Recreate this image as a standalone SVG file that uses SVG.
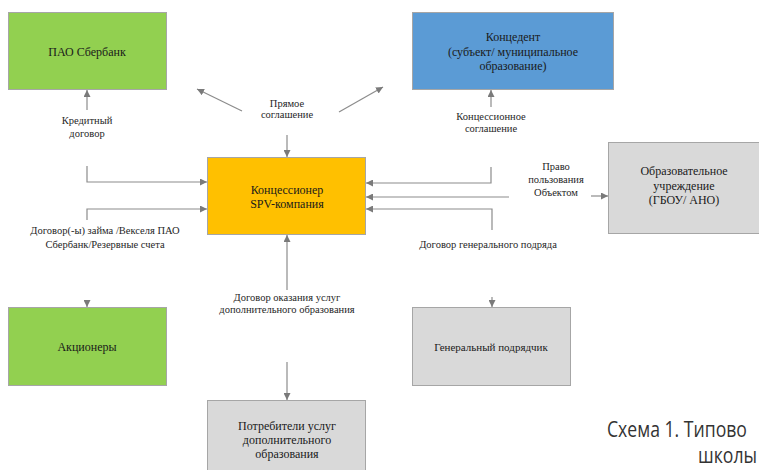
<svg xmlns="http://www.w3.org/2000/svg" width="759" height="470" viewBox="0 0 759 470">
<style>
.box{stroke:#a6a6a6;stroke-width:1}
.nt{font-family:"Liberation Serif",Tinos,"Times New Roman","DejaVu Serif",serif;font-size:12px;fill:#1a1a1a;text-anchor:middle}
.lt{font-family:"Liberation Serif",Tinos,"Times New Roman","DejaVu Serif",serif;font-size:10.5px;fill:#262626;text-anchor:middle}
.ln{fill:none;stroke:#8c8c8c;stroke-width:1.2}
.cap{font-family:"Open Sans","Liberation Sans",sans-serif;font-size:21px;fill:#333}
</style>
<defs>
<marker id="ah" viewBox="0 0 10 10" refX="10" refY="5" markerWidth="7" markerHeight="7" markerUnits="userSpaceOnUse" orient="auto">
<path d="M0,0 L10,5 L0,10 z" fill="#7a7a7a"/>
</marker>
</defs>
<rect width="759" height="470" fill="#fff"/>
<g id="sberbank"><rect class="box" x="8.5" y="12.5" width="158" height="77" fill="#92d050"/><text class="nt" x="87" y="56">ПАО Сбербанк</text></g>
<g id="concedent"><rect class="box" x="412.5" y="12.5" width="201" height="77" fill="#5b9bd5"/><text class="nt" x="513" y="41">Концедент</text><text class="nt" x="513" y="56">(субъект/ муниципальное</text><text class="nt" x="513" y="70">образование)</text></g>
<g id="concessioner"><rect class="box" x="207.5" y="157.5" width="158" height="77" fill="#ffc000"/><text class="nt" x="287" y="194">Концессионер</text><text class="nt" x="287" y="208">SPV-компания</text></g>
<g id="school"><rect class="box" x="608.5" y="142.5" width="160" height="91" fill="#d9d9d9"/><text class="nt" x="684" y="175">Образовательное</text><text class="nt" x="684" y="190">учреждение</text><text class="nt" x="684" y="204">(ГБОУ/ АНО)</text></g>
<g id="shareholders"><rect class="box" x="8.5" y="307.5" width="158" height="78" fill="#92d050"/><text class="nt" x="87" y="351">Акционеры</text></g>
<g id="contractor"><rect class="box" x="412.5" y="307.5" width="158" height="78" fill="#d9d9d9"/><text class="nt" x="491" y="351" style="font-size:11px">Генеральный подрядчик</text></g>
<g id="consumers"><rect class="box" x="207.5" y="400.5" width="158" height="75" fill="#d9d9d9"/><text class="nt" x="287" y="430">Потребители услуг</text><text class="nt" x="287" y="444">дополнительного</text><text class="nt" x="287" y="458">образования</text></g>
<g id="connectors">
<line class="ln" x1="87" y1="110" x2="87" y2="90" marker-end="url(#ah)"/>
<polyline class="ln" points="87,166 87,182 207,182" marker-end="url(#ah)"/>
<polyline class="ln" points="87,220 87,209 207,209" marker-end="url(#ah)"/>
<line class="ln" x1="87" y1="300" x2="87" y2="307" marker-end="url(#ah)"/>
<line class="ln" x1="242" y1="111" x2="197" y2="89" marker-end="url(#ah)"/>
<line class="ln" x1="339" y1="112" x2="383" y2="87" marker-end="url(#ah)"/>
<line class="ln" x1="287" y1="135" x2="287" y2="157" marker-end="url(#ah)"/>
<line class="ln" x1="491" y1="107" x2="491" y2="90" marker-end="url(#ah)"/>
<polyline class="ln" points="491,167 491,183 366,183" marker-end="url(#ah)"/>
<line class="ln" x1="509" y1="197" x2="366" y2="197" marker-end="url(#ah)"/>
<polyline class="ln" points="492,230 492,209 366,209" marker-end="url(#ah)"/>
<line class="ln" x1="492" y1="297" x2="492" y2="307" marker-end="url(#ah)"/>
<line class="ln" x1="591" y1="196" x2="608" y2="196" marker-end="url(#ah)"/>
<line class="ln" x1="287" y1="290" x2="287" y2="235" marker-end="url(#ah)"/>
<line class="ln" x1="287" y1="362" x2="287" y2="400" marker-end="url(#ah)"/>
<text class="lt" x="87" y="124">Кредитный</text>
<text class="lt" x="87" y="137">договор</text>
<text class="lt" x="105" y="234">Договор(-ы) займа /Векселя ПАО</text>
<text class="lt" x="105" y="248">Сбербанк/Резервные счета</text>
<text class="lt" x="287" y="107">Прямое</text>
<text class="lt" x="287" y="118">соглашение</text>
<text class="lt" x="491" y="120">Концессионное</text>
<text class="lt" x="491" y="132">соглашение</text>
<text class="lt" x="556" y="170">Право</text>
<text class="lt" x="556" y="183">пользования</text>
<text class="lt" x="556" y="196">Объектом</text>
<text class="lt" x="488" y="248">Договор генерального подряда</text>
<text class="lt" x="287" y="301">Договор оказания услуг</text>
<text class="lt" x="287" y="313">дополнительного образования</text>
</g>
<text class="cap" transform="translate(607,437) scale(0.84,1)" x="0" y="0">Схема 1. Типово</text>
<text class="cap" transform="translate(698,463) scale(0.84,1)" x="0" y="0">школы</text>
</svg>
